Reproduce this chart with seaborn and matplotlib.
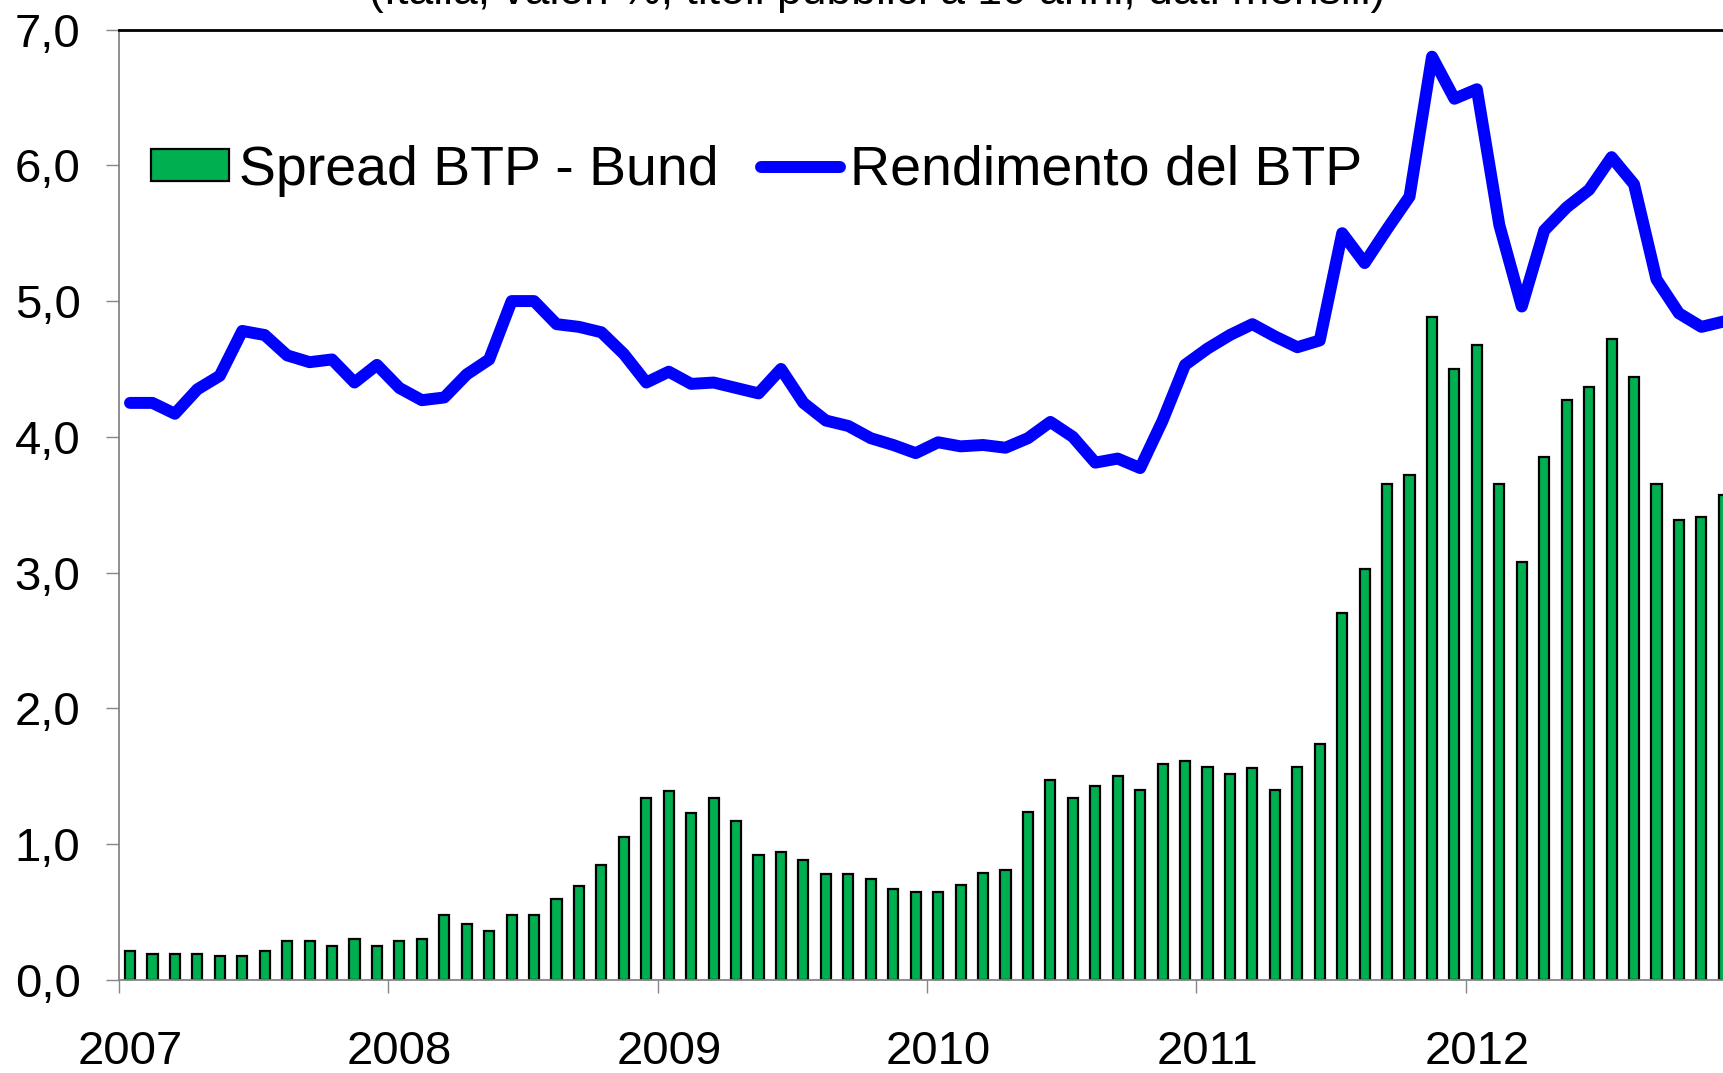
import matplotlib
matplotlib.use("Agg")
import matplotlib.pyplot as plt
import seaborn as sns
import numpy as np
import pandas as pd
from matplotlib.patches import Patch
from matplotlib.lines import Line2D
from matplotlib.ticker import FixedLocator, FuncFormatter

# Monthly data, Jan 2007 - Dec 2012
years = ["2007", "2008", "2009", "2010", "2011", "2012"]
spread = [0.21, 0.19, 0.19, 0.19, 0.18, 0.18, 0.21, 0.29, 0.29, 0.25, 0.30, 0.25,
          0.29, 0.30, 0.48, 0.41, 0.36, 0.48, 0.48, 0.60, 0.69, 0.85, 1.05, 1.34,
          1.39, 1.23, 1.34, 1.17, 0.92, 0.94, 0.88, 0.78, 0.78, 0.74, 0.67, 0.65,
          0.65, 0.70, 0.79, 0.81, 1.24, 1.47, 1.34, 1.43, 1.50, 1.40, 1.59, 1.61,
          1.57, 1.52, 1.56, 1.40, 1.57, 1.74, 2.70, 3.03, 3.65, 3.72, 4.88, 4.50,
          4.68, 3.65, 3.08, 3.85, 4.27, 4.37, 4.72, 4.44, 3.65, 3.39, 3.41, 3.57]
rendimento = [4.25, 4.25, 4.17, 4.35, 4.45, 4.78, 4.75, 4.60, 4.55, 4.57, 4.40, 4.53,
              4.36, 4.27, 4.29, 4.46, 4.57, 5.00, 5.00, 4.83, 4.81, 4.77, 4.61, 4.40,
              4.48, 4.39, 4.40, 4.36, 4.32, 4.50, 4.25, 4.12, 4.08, 3.99, 3.94, 3.88,
              3.96, 3.93, 3.94, 3.92, 3.99, 4.11, 4.00, 3.81, 3.84, 3.77, 4.12, 4.53,
              4.65, 4.75, 4.83, 4.74, 4.66, 4.71, 5.50, 5.28, 5.53, 5.77, 6.80, 6.49,
              6.56, 5.56, 4.96, 5.52, 5.69, 5.82, 6.06, 5.86, 5.16, 4.91, 4.81, 4.85]
label_spread = "Spread BTP - Bund"
label_rend = "Rendimento del BTP"
title_text = "(Italia, valori %, titoli pubblici a 10 anni, dati mensili)"

month_idx = np.arange(len(spread))
df = pd.DataFrame({"m": month_idx, "spread": spread, "rend": rendimento})

sns.set_theme(style="white")
plt.rcParams["font.family"] = ["Liberation Sans", "DejaVu Sans"]
plt.rcParams["text.color"] = "black"
plt.rcParams["xtick.color"] = "black"
plt.rcParams["ytick.color"] = "black"

GREEN = "#00B050"
BLUE = "#0000FF"
GRAY = "#868686"

fig = plt.figure(figsize=(17.24, 10.73), dpi=100)
ax = fig.add_axes([0.0689, 0.0867, 1.0064 - 0.0689, 0.9725 - 0.0867])

sns.barplot(data=df, x="m", y="spread", native_scale=True, width=0.45,
            color=GREEN, saturation=1, edgecolor="black", linewidth=1.6, ax=ax, zorder=2)
sns.lineplot(data=df, x="m", y="rend", color=BLUE, linewidth=8.6, ax=ax,
             solid_joinstyle="round", solid_capstyle="round", zorder=3)

ax.set_xlim(-0.5, len(spread) - 0.5)
ax.set_ylim(0, 7)
ax.set_xlabel("")
ax.set_ylabel("")

# y axis
ax.yaxis.set_major_locator(FixedLocator(np.arange(0, 7.01, 1.0)))
ax.yaxis.set_major_formatter(FuncFormatter(lambda v, p: f"{v:.1f}".replace(".", ",")))
ax.tick_params(axis="y", which="major", direction="out", length=9.5, width=1.0,
               color=GRAY, labelcolor="black", labelsize=34, pad=18, left=True)

# x axis: ticks at year boundaries, labels at January
bounds = [-0.5 + 12 * i for i in range(len(years) + 1)]
ax.set_xticks(bounds)
ax.set_xticklabels([""] * len(bounds))
ax.set_xticks([12 * i for i in range(len(years))], minor=True)
ax.set_xticklabels(years, minor=True)
ax.tick_params(axis="x", which="major", direction="out", length=9.5, width=1.0,
               color=GRAY, bottom=True)
ax.tick_params(axis="x", which="minor", length=0, labelsize=34, pad=36,
               labelcolor="black", bottom=True)

for s in ["left", "bottom"]:
    ax.spines[s].set_color(GRAY)
    ax.spines[s].set_linewidth(1.3)
ax.spines["top"].set_color("black")
ax.spines["top"].set_linewidth(2.0)
ax.spines["right"].set_visible(False)
ax.grid(False)

handles = [Patch(facecolor=GREEN, edgecolor="black", linewidth=1.6),
           Line2D([0], [0], color=BLUE, linewidth=8.6, solid_capstyle="round")]
fig.legend(handles, [label_spread, label_rend], loc="center left",
           bbox_to_anchor=(0.0873, 0.841), ncol=2, frameon=False, fontsize=40,
           handlelength=1.42, handleheight=0.5, handletextpad=0.18,
           columnspacing=0.75, borderpad=0, borderaxespad=0, labelcolor="black")

fig.text(0.509, 0.996, title_text, ha="center", va="baseline", fontsize=32,
         color="black")

fig.savefig("out.png", dpi=100)
